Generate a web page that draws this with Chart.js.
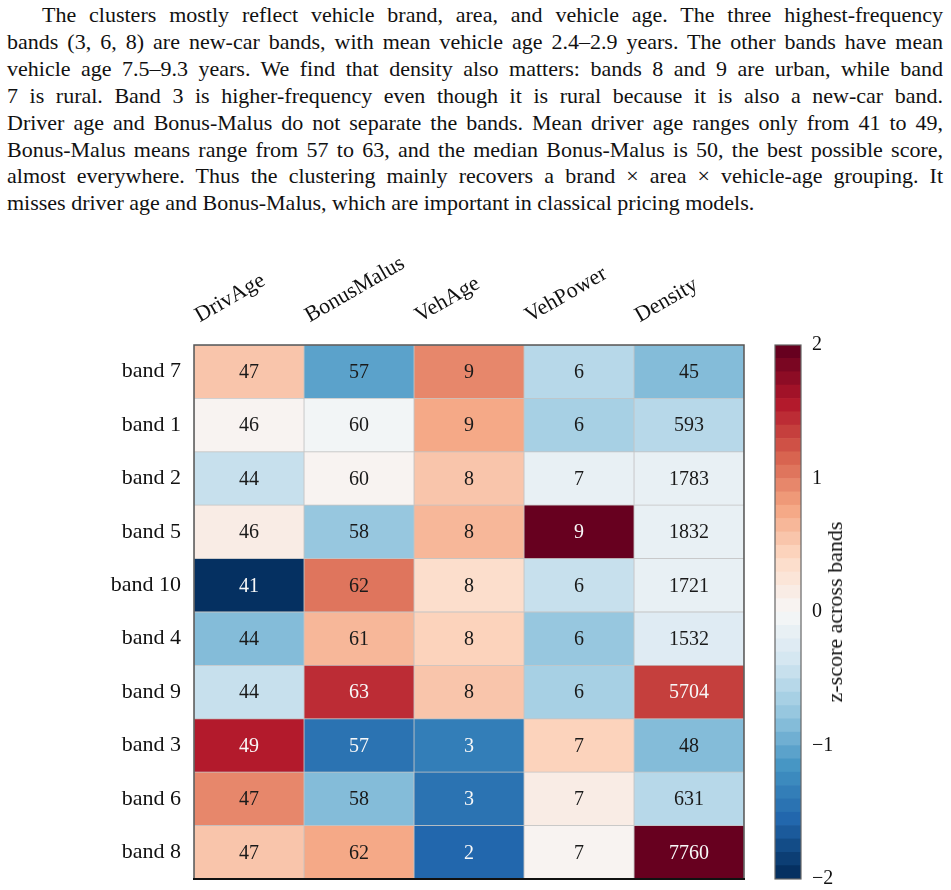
<!DOCTYPE html>
<html><head><meta charset="utf-8">
<script src="https://cdn.jsdelivr.net/npm/chart.js@4.4.1/dist/chart.umd.min.js"></script>
<style>
html,body{margin:0;padding:0;background:#fff;width:951px;height:890px;overflow:hidden;}
#para{position:absolute;left:7px;top:2px;width:936px;font-family:"Liberation Serif",serif;font-size:22px;line-height:26.9px;color:#111;}
#para div{text-align:justify;text-align-last:justify;white-space:nowrap;}
#para div.first{text-indent:35px;}
#para div.last{text-align:left;text-align-last:left;}
#main{position:absolute;left:0;top:230px;}
#cbar{position:absolute;left:760px;top:230px;}
#cbtitle{position:absolute;left:835px;top:612px;transform:translate(-50%,-50%) rotate(-90deg);white-space:nowrap;font-family:"Liberation Serif",serif;font-size:22px;color:#111;}
</style></head>
<body>
<div id="para">
<div class="first">The clusters mostly reflect vehicle brand, area, and vehicle age. The three highest-frequency</div>
<div>bands (3, 6, 8) are new-car bands, with mean vehicle age 2.4–2.9 years. The other bands have mean</div>
<div>vehicle age 7.5–9.3 years. We find that density also matters: bands 8 and 9 are urban, while band</div>
<div>7 is rural. Band 3 is higher-frequency even though it is rural because it is also a new-car band.</div>
<div>Driver age and Bonus-Malus do not separate the bands. Mean driver age ranges only from 41 to 49,</div>
<div>Bonus-Malus means range from 57 to 63, and the median Bonus-Malus is 50, the best possible score,</div>
<div>almost everywhere. Thus the clustering mainly recovers a brand × area × vehicle-age grouping. It</div>
<div class="last">misses driver age and Bonus-Malus, which are important in classical pricing models.</div>
</div>
<canvas id="main" width="760" height="660"></canvas>
<canvas id="cbar" width="191" height="660"></canvas>
<div id="cbtitle">z-score across bands</div>
<script>
// ---- data ----
const bands = ['band 7','band 1','band 2','band 5','band 10','band 4','band 9','band 3','band 6','band 8'];
const features = ['DrivAge','BonusMalus','VehAge','VehPower','Density'];
const drivAge    = [47, 46, 44, 46, 41, 44, 44, 49, 47, 47];
const bonusMalus = [57, 60, 60, 58, 62, 61, 63, 57, 58, 62];
const vehAge     = [9, 9, 8, 8, 8, 8, 8, 3, 3, 2];
const vehPower   = [6, 6, 7, 9, 6, 6, 6, 7, 7, 7];
const density    = [45, 593, 1783, 1832, 1721, 1532, 5704, 48, 631, 7760];
// z-scores (colour)
const zDrivAge    = [0.55, 0.05, -0.45, 0.15, -1.95, -0.85, -0.45, 1.55, 0.95, 0.55];
const zBonusMalus = [-1.05, -0.05, 0.05, -0.75, 1.05, 0.65, 1.45, -1.45, -0.85, 0.75];
const zVehAge     = [0.95, 0.75, 0.55, 0.65, 0.35, 0.45, 0.55, -1.35, -1.45, -1.55];
const zVehPower   = [-0.55, -0.65, -0.15, 1.95, -0.45, -0.75, -0.65, 0.45, 0.15, 0.05];
const zDensity    = [-0.85, -0.55, -0.15, -0.15, -0.15, -0.25, 1.35, -0.85, -0.55, 1.95];
const cbarTicks = [-2, -1, 0, 1, 2];

const values = [drivAge, bonusMalus, vehAge, vehPower, density];
const zs = [zDrivAge, zBonusMalus, zVehAge, zVehPower, zDensity];

// ---- colour map (RdBu_r, 40 discrete levels on [-2, 2]) ----
const zMin = -2, zMax = 2, nLevels = 40;
const rdbu = ['#053061','#2166ac','#4393c3','#92c5de','#d1e5f0','#f7f7f7','#fddbc7','#f4a582','#d6604d','#b2182b','#67001f'];
function hex(h){return [parseInt(h.slice(1,3),16),parseInt(h.slice(3,5),16),parseInt(h.slice(5,7),16)];}
const rdbuRGB = rdbu.map(hex);
function cmap(t){
  t = Math.max(0, Math.min(1, t));
  const p = t * (rdbuRGB.length - 1);
  const i = Math.min(Math.floor(p), rdbuRGB.length - 2);
  const f = p - i;
  const a = rdbuRGB[i], b = rdbuRGB[i+1];
  return 'rgb(' + a.map((v,k)=>Math.round(v + (b[k]-v)*f)).join(',') + ')';
}
function zColor(z){
  let bin = Math.floor((z - zMin) / (zMax - zMin) * nLevels + 1e-9);
  bin = Math.max(0, Math.min(nLevels - 1, bin));
  return cmap(bin / (nLevels - 1));
}

const FONT = 'Liberation Serif';
const TXT = '#111';

// ---- heatmap ----
const datasets = features.map((f, j) => ({
  label: f,
  data: bands.map((b, i) => ({ y: b, x: [j, j + 1], v: values[j][i], z: zs[j][i] })),
  backgroundColor: zs[j].map(zColor),
  borderColor: '#c4c4c4',
  borderWidth: 0.75,
  borderSkipped: false,
  grouped: false,
  categoryPercentage: 1,
  barPercentage: 1
}));

const cellText = {
  id: 'cellText',
  afterDatasetsDraw(chart) {
    const ctx = chart.ctx;
    ctx.save();
    ctx.font = '20px "' + FONT + '"';
    ctx.textAlign = 'center';
    ctx.textBaseline = 'middle';
    chart.data.datasets.forEach((ds, di) => {
      chart.getDatasetMeta(di).data.forEach((el, i) => {
        const raw = ds.data[i];
        ctx.fillStyle = Math.abs(raw.z) > 1.2 ? '#f8f8f8' : '#1a1a1a';
        ctx.fillText(String(raw.v), (el.x + el.base) / 2, el.y + 1);
      });
    });
    const a = chart.chartArea;
    ctx.strokeStyle = '#555';
    ctx.lineWidth = 1.5;
    ctx.strokeRect(a.left, a.top, a.right - a.left, a.bottom - a.top);
    ctx.strokeStyle = '#111';
    ctx.lineWidth = 2;
    ctx.beginPath(); ctx.moveTo(a.left - 1, a.bottom); ctx.lineTo(a.right + 1, a.bottom); ctx.stroke();
    ctx.restore();
  }
};

new Chart(document.getElementById('main'), {
  type: 'bar',
  data: { labels: bands, datasets },
  options: {
    responsive: false,
    animation: false,
    indexAxis: 'y',
    layout: { padding: { left: 104, top: 5, right: 16, bottom: 11 } },
    plugins: { legend: { display: false }, tooltip: { enabled: false } },
    scales: {
      x: { type: 'linear', min: 0, max: features.length, display: false },
      xTop: {
        type: 'category', labels: features, position: 'top', offset: true,
        grid: { display: false, drawTicks: false }, border: { display: false },
        ticks: { autoSkip: false, minRotation: 30, maxRotation: 30, padding: 16, labelOffset: -39,
                 color: TXT, font: { family: FONT, size: 22 } },
        afterFit(s) { s.height = 110; s.paddingLeft = 0; s.paddingRight = 0; }
      },
      y: {
        type: 'category', labels: bands, offset: true,
        grid: { display: false, drawTicks: false }, border: { display: false },
        ticks: { padding: 13, color: TXT, font: { family: FONT, size: 22 } },
        afterFit(s) { s.width = 90; s.paddingTop = 0; s.paddingBottom = 0; }
      }
    }
  },
  plugins: [cellText]
});

// ---- colour bar ----
const cbDatasets = [];
for (let i = 0; i < nLevels; i++) {
  const lo = zMin + (zMax - zMin) * i / nLevels;
  const hi = zMin + (zMax - zMin) * (i + 1) / nLevels;
  cbDatasets.push({ data: [[lo, hi]], backgroundColor: zColor((lo + hi) / 2), borderWidth: 0,
                    grouped: false, categoryPercentage: 1, barPercentage: 1 });
}
const cbFrame = {
  id: 'cbFrame',
  afterDatasetsDraw(chart) {
    const a = chart.chartArea, ctx = chart.ctx;
    ctx.save();
    ctx.strokeStyle = '#666'; ctx.lineWidth = 1.2;
    ctx.strokeRect(a.left, a.top, a.right - a.left, a.bottom - a.top);
    ctx.restore();
  }
};
new Chart(document.getElementById('cbar'), {
  type: 'bar',
  data: { labels: [''], datasets: cbDatasets },
  options: {
    responsive: false,
    animation: false,
    layout: { padding: { left: 15, top: 115, right: 0, bottom: 11 } },
    plugins: { legend: { display: false }, tooltip: { enabled: false } },
    scales: {
      x: { display: false },
      y: {
        position: 'right', min: zMin, max: zMax,
        grid: { display: false, drawTicks: false }, border: { display: false },
        afterBuildTicks(s) { s.ticks = cbarTicks.map(v => ({ value: v })); },
        ticks: { padding: 11, color: TXT, font: { family: FONT, size: 20 },
                 callback: v => (v < 0 ? '\u2212' + Math.abs(v) : String(v)) },
        afterFit(s) { s.width = 150; s.paddingTop = 0; s.paddingBottom = 0; }
      }
    }
  },
  plugins: [cbFrame]
});
</script>
</body></html>
